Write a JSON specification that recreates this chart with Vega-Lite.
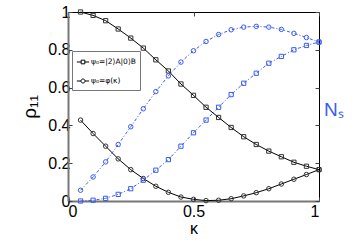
{
  "$schema": "https://vega.github.io/schema/vega-lite/v6.json",
  "width": 251,
  "height": 189,
  "autosize": "none",
  "padding": {"left": 68, "top": 12, "right": 41, "bottom": 40},
  "config": {
    "font": "Liberation Sans",
    "view": {"stroke": "black", "strokeWidth": 1},
    "axis": {"grid": false, "labelFont": "Liberation Sans", "titleFont": "Liberation Sans", "titleFontWeight": "normal", "labelColor": "black", "titleColor": "black", "tickColor": "#444", "domainColor": "#777"}
  },
  "data": {"values": [
    {"k":0.05,"v":1.0,"s":"bsq"},{"k":0.1,"v":0.982,"s":"bsq"},{"k":0.15,"v":0.954,"s":"bsq"},{"k":0.2,"v":0.91,"s":"bsq"},{"k":0.25,"v":0.862,"s":"bsq"},{"k":0.3,"v":0.809,"s":"bsq"},{"k":0.35,"v":0.747,"s":"bsq"},{"k":0.4,"v":0.688,"s":"bsq"},{"k":0.45,"v":0.619,"s":"bsq"},{"k":0.5,"v":0.559,"s":"bsq"},{"k":0.55,"v":0.496,"s":"bsq"},{"k":0.6,"v":0.442,"s":"bsq"},{"k":0.65,"v":0.389,"s":"bsq"},{"k":0.7,"v":0.34,"s":"bsq"},{"k":0.75,"v":0.299,"s":"bsq"},{"k":0.8,"v":0.264,"s":"bsq"},{"k":0.85,"v":0.234,"s":"bsq"},{"k":0.9,"v":0.205,"s":"bsq"},{"k":0.95,"v":0.184,"s":"bsq"},{"k":1.0,"v":0.166,"s":"bsq"},
    {"k":0.05,"v":0.428,"s":"bci"},{"k":0.1,"v":0.357,"s":"bci"},{"k":0.15,"v":0.29,"s":"bci"},{"k":0.2,"v":0.223,"s":"bci"},{"k":0.25,"v":0.166,"s":"bci"},{"k":0.3,"v":0.119,"s":"bci"},{"k":0.35,"v":0.078,"s":"bci"},{"k":0.4,"v":0.046,"s":"bci"},{"k":0.45,"v":0.021,"s":"bci"},{"k":0.5,"v":0.009,"s":"bci"},{"k":0.55,"v":0.002,"s":"bci"},{"k":0.6,"v":0.004,"s":"bci"},{"k":0.65,"v":0.012,"s":"bci"},{"k":0.7,"v":0.027,"s":"bci"},{"k":0.75,"v":0.044,"s":"bci"},{"k":0.8,"v":0.065,"s":"bci"},{"k":0.85,"v":0.09,"s":"bci"},{"k":0.9,"v":0.115,"s":"bci"},{"k":0.95,"v":0.14,"s":"bci"},{"k":1.0,"v":0.166,"s":"bci"},
    {"k":0.05,"v":0.057,"s":"uci"},{"k":0.1,"v":0.127,"s":"uci"},{"k":0.15,"v":0.207,"s":"uci"},{"k":0.2,"v":0.299,"s":"uci"},{"k":0.25,"v":0.393,"s":"uci"},{"k":0.3,"v":0.488,"s":"uci"},{"k":0.35,"v":0.579,"s":"uci"},{"k":0.4,"v":0.662,"s":"uci"},{"k":0.45,"v":0.735,"s":"uci"},{"k":0.5,"v":0.795,"s":"uci"},{"k":0.55,"v":0.844,"s":"uci"},{"k":0.6,"v":0.881,"s":"uci"},{"k":0.65,"v":0.906,"s":"uci"},{"k":0.7,"v":0.92,"s":"uci"},{"k":0.75,"v":0.924,"s":"uci"},{"k":0.8,"v":0.92,"s":"uci"},{"k":0.85,"v":0.908,"s":"uci"},{"k":0.9,"v":0.887,"s":"uci"},{"k":0.95,"v":0.865,"s":"uci"},{"k":1.0,"v":0.841,"s":"uci"},
    {"k":0.05,"v":0.0,"s":"usq"},{"k":0.1,"v":0.004,"s":"usq"},{"k":0.15,"v":0.014,"s":"usq"},{"k":0.2,"v":0.035,"s":"usq"},{"k":0.25,"v":0.065,"s":"usq"},{"k":0.3,"v":0.11,"s":"usq"},{"k":0.35,"v":0.163,"s":"usq"},{"k":0.4,"v":0.219,"s":"usq"},{"k":0.45,"v":0.29,"s":"usq"},{"k":0.5,"v":0.361,"s":"usq"},{"k":0.55,"v":0.428,"s":"usq"},{"k":0.6,"v":0.496,"s":"usq"},{"k":0.65,"v":0.563,"s":"usq"},{"k":0.7,"v":0.623,"s":"usq"},{"k":0.75,"v":0.676,"s":"usq"},{"k":0.8,"v":0.729,"s":"usq"},{"k":0.85,"v":0.765,"s":"usq"},{"k":0.9,"v":0.8,"s":"usq"},{"k":0.95,"v":0.823,"s":"usq"},{"k":1.0,"v":0.841,"s":"usq"}
  ]},
  "resolve": {"axis": {"x": "independent", "y": "independent"}},
  "layer": [
    {
      "transform": [{"filter": "datum.s === 'bsq' || datum.s === 'bci'"}],
      "mark": {"type": "line", "color": "black", "strokeWidth": 1},
      "encoding": {
        "x": {"field": "k", "type": "quantitative", "scale": {"domain": [0, 1], "nice": false}, "axis": {"orient": "bottom", "values": [0, 0.5, 1], "format": "~g", "labelFontSize": 16, "tickSize": -4, "labelPadding": 6, "title": "κ", "titleFontSize": 16, "titlePadding": 1, "domainWidth": 2}},
        "y": {"field": "v", "type": "quantitative", "scale": {"domain": [0, 1], "nice": false}, "axis": {"orient": "left", "values": [0, 0.2, 0.4, 0.6, 0.8, 1], "format": "~g", "labelFontSize": 16, "tickSize": -4, "labelPadding": 2, "title": "ρ₁₁", "titleFontSize": 19, "titlePadding": 8, "domainWidth": 2}},
        "detail": {"field": "s"}
      }
    },
    {
      "transform": [{"filter": "datum.s === 'bsq'"}],
      "mark": {"type": "point", "shape": "square", "filled": false, "color": "#333", "strokeWidth": 1, "opacity": 1, "size": 18},
      "encoding": {
        "x": {"field": "k", "type": "quantitative", "axis": null},
        "y": {"field": "v", "type": "quantitative", "axis": null}
      }
    },
    {
      "transform": [{"filter": "datum.s === 'bci'"}],
      "mark": {"type": "point", "shape": "circle", "filled": false, "color": "#333", "strokeWidth": 1, "opacity": 1, "size": 20},
      "encoding": {
        "x": {"field": "k", "type": "quantitative", "axis": null},
        "y": {"field": "v", "type": "quantitative", "axis": null}
      }
    },
    {
      "transform": [{"filter": "datum.k > 1"}],
      "mark": {"type": "point", "filled": false, "color": "black", "strokeWidth": 1, "opacity": 1},
      "encoding": {
        "x": {"field": "k", "type": "quantitative", "axis": null},
        "y": {"field": "v", "type": "quantitative", "axis": null},
        "shape": {"field": "s", "type": "nominal", "scale": {"domain": ["bsq", "bci"], "range": ["M-1,0H-0.3M0.3,0H1M-0.3,-0.3H0.3V0.3H-0.3Z", "M-1,0H-0.33M0.33,0H1M0.33,0A0.33,0.33 0 1,1 -0.33,0A0.33,0.33 0 1,1 0.33,0Z"]},
          "legend": {"orient": "none", "legendX": 4, "legendY": 39, "title": null, "labelExpr": "datum.value === 'bsq' ? 'ψ₀=|2⟩A|0⟩B' : 'ψ₀=φ(κ)'", "labelFontSize": 7.5, "labelFont": "DejaVu Sans", "labelColor": "black", "strokeColor": "#777", "fillColor": "white", "padding": 4, "rowPadding": 8, "symbolSize": 150, "symbolStrokeColor": "black", "symbolFillColor": "transparent", "symbolStrokeWidth": 1, "labelOffset": 1}
        }
      }
    },
    {
      "transform": [{"filter": "datum.s === 'usq' || datum.s === 'uci'"}],
      "mark": {"type": "line", "color": "#3a5cf2", "strokeWidth": 1, "strokeDash": [3, 2, 1, 2]},
      "encoding": {
        "x": {"field": "k", "type": "quantitative", "axis": {"orient": "top", "values": [0, 0.5, 1], "labels": false, "tickSize": -4, "domain": false, "title": null}},
        "y": {"field": "v", "type": "quantitative", "axis": {"orient": "right", "values": [0, 0.2, 0.4, 0.6, 0.8, 1], "labels": false, "tickSize": -4, "domain": false, "title": "Nₛ", "titleColor": "#3a5cf2", "titleFontSize": 19, "titleAngle": 0, "titleAlign": "left", "titleBaseline": "middle", "titlePadding": 4, "titleY": 97}},
        "detail": {"field": "s"}
      }
    },
    {
      "transform": [{"filter": "datum.s === 'usq'"}],
      "mark": {"type": "point", "shape": "square", "filled": false, "color": "#3a5cf2", "strokeWidth": 1, "opacity": 1, "size": 18},
      "encoding": {
        "x": {"field": "k", "type": "quantitative", "axis": null},
        "y": {"field": "v", "type": "quantitative", "axis": null}
      }
    },
    {
      "transform": [{"filter": "datum.s === 'uci'"}],
      "mark": {"type": "point", "shape": "circle", "filled": false, "color": "#3a5cf2", "strokeWidth": 1, "opacity": 1, "size": 20},
      "encoding": {
        "x": {"field": "k", "type": "quantitative", "axis": null},
        "y": {"field": "v", "type": "quantitative", "axis": null}
      }
    }
  ]
}
